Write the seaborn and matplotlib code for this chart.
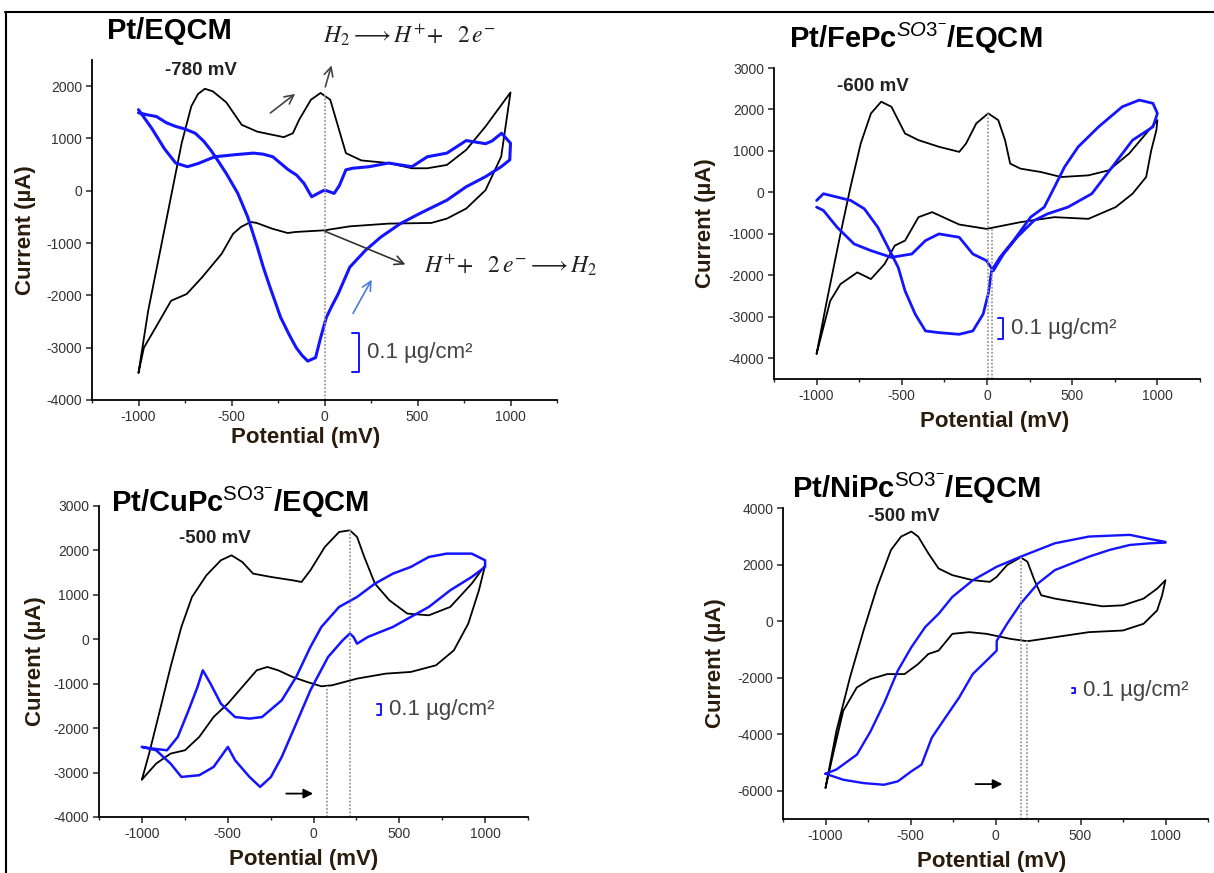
import matplotlib
matplotlib.use("Agg")
import matplotlib.pyplot as plt
from matplotlib.lines import Line2D
from matplotlib.ticker import MultipleLocator
import pandas as pd
import seaborn as sns

W, H, DPI = 1214, 873, 100

# ---------------------------------------------------------------------------
# Data: potential (mV) / current (uA)
# black = cyclic voltammogram, blue = EQCM mass response (same axes)
# ---------------------------------------------------------------------------
# Pt/EQCM
pt_cv_E = [-1000, -948, -883, -820, -768, -716, -680, -643, -600, -528, -445, -361, -219, -170,
           -136, -73, -21, 31, 73, 115, 198, 344, 470, 553, 658, 762, 866, 1000,
           950, 866, 762, 658, 574, 344, 136, 0, -157, -198, -282, -365, -397, -449, -491,
           -553, -658, -741, -825, -908, -971, -1000]
pt_cv_I = [-3480, -2295, -1141, -19, 910, 1615, 1850, 1950, 1900, 1690, 1260, 1130, 1025, 1100,
           1360, 1740, 1870, 1740, 1230, 720, 580, 530, 430, 430, 494, 782, 1230, 1880,
           654, 13, -340, -532, -615, -628, -680, -756, -788, -808, -724, -615, -596, -692, -820,
           -1205, -1654, -1974, -2103, -2615, -3000, -3480]
pt_mass_E = [-1000, -950, -904, -850, -800, -750, -695, -650, -612, -570, -528, -466, -413, -361,
             -330, -299, -236, -190, -152, -120, -90, -48, -21, 10, 40, 73, 136, 220, 303, 407,
             511, 658, 762, 866, 950, 996, 1000, 952, 900, 866, 762, 658, 553, 470, 344, 240,
             150, 115, 80, 52, 0, -40, -69, -110, -150, -194, -278, -330, -382, -480, -590,
             -680, -737, -800, -860, -930, -1000]
pt_mass_I = [1490, 1450, 1420, 1300, 1230, 1180, 1100, 950, 780, 560, 330, -50, -500, -1077,
             -1450, -1780, -2420, -2750, -3000, -3150, -3256, -3190, -2810, -2420, -2200, -1975,
             -1460, -1140, -885, -630, -436, -180, 77, 270, 460, 590, 910, 1100, 950, 900, 960,
             720, 650, 460, 530, 460, 430, 400, 100, -50, 15, -60, -115, 140, 300, 400, 650,
             700, 720, 690, 650, 520, 460, 530, 800, 1200, 1550]

# Pt/FePc(SO3-)/EQCM
fe_cv_E = [-1000, -940, -860, -801, -741, -681, -621, -561, -481, -402, -282, -163, -123, -63, 7,
           66, 106, 136, 196, 316, 435, 595, 715, 834, 1000, 994, 964, 934, 854, 755, 595,
           396, 196, -3, -163, -322, -402, -481, -541, -601, -681, -761, -860, -920, -1000]
fe_cv_I = [-3890, -2615, -1000, 130, 1180, 1905, 2187, 2066, 1420, 1260, 1100, 977, 1178, 1663,
           1905, 1743, 1260, 694, 573, 492, 371, 411, 533, 936, 1743, 1500, 1017, 371, -32,
           -355, -638, -597, -718, -880, -775, -476, -597, -1162, -1283, -1727, -2090, -1929,
           -2211, -2615, -3890]
fe_mass_E = [-1000, -960, -880, -800, -720, -641, -581, -521, -481, -421, -361, -282, -163, -83,
             -23, 7, 27, 76, 156, 256, 336, 396, 455, 535, 655, 794, 894, 974, 1000, 974, 854,
             735, 615, 475, 356, 276, 176, 97, 37, -3, -83, -163, -282, -361, -441, -561, -681,
             -780, -880, -960, -1000]
fe_mass_I = [-194, -32, -113, -194, -395, -839, -1323, -1808, -2373, -2938, -3341, -3382, -3422,
             -3341, -2938, -2454, -1889, -1566, -1162, -597, -355, 129, 613, 1098, 1582, 2066,
             2227, 2147, 1905, 1582, 1259, 613, -32, -355, -516, -678, -1082, -1485, -1889,
             -1646, -1485, -1082, -1001, -1162, -1485, -1566, -1404, -1243, -839, -436, -355]

# Pt/CuPc(SO3-)/EQCM
cu_cv_E = [-1000, -958, -895, -833, -770, -708, -624, -540, -478, -415, -352, -248, -122, -70,
           -18, 66, 149, 212, 254, 296, 358, 442, 547, 672, 797, 922, 1000, 964, 902, 818,
           714, 567, 421, 254, 108, 46, -38, -122, -206, -269, -331, -415, -499, -582, -666,
           -749, -833, -917, -1000]
cu_cv_I = [-3158, -2573, -1598, -623, 278, 953, 1440, 1778, 1890, 1740, 1478, 1403, 1328, 1290,
           1553, 2078, 2415, 2453, 2303, 1853, 1253, 878, 578, 540, 728, 1253, 1665, 1103, 353,
           -248, -585, -735, -773, -885, -1035, -1058, -960, -848, -698, -623, -698, -1073,
           -1448, -1748, -2198, -2498, -2573, -2798, -3158]
cu_mass_E = [-1000, -917, -833, -770, -666, -582, -499, -457, -373, -311, -248, -185, -101, -18,
             23, 85, 170, 212, 233, 254, 317, 463, 567, 672, 797, 922, 1000, 1000, 922, 776,
             672, 567, 463, 358, 254, 149, 46, -18, -101, -185, -300, -373, -457, -540, -600,
             -645, -676, -728, -791, -854, -937, -1000]
cu_mass_I = [-2423, -2498, -2798, -3098, -3060, -2873, -2423, -2723, -3098, -3323, -3098, -2648,
             -1898, -1148, -848, -398, -23, 128, 53, -98, 53, 278, 503, 728, 1103, 1403, 1628,
             1778, 1928, 1928, 1853, 1628, 1478, 1253, 953, 728, 278, -173, -848, -1373, -1750,
             -1785, -1750, -1448, -1000, -698, -1073, -1598, -2198, -2498, -2460, -2423]

# Pt/NiPc(SO3-)/EQCM
ni_cv_E = [-1000, -936, -856, -776, -696, -615, -555, -495, -455, -395, -335, -254, -134, -33, 7,
           68, 148, 188, 229, 269, 349, 469, 630, 750, 871, 951, 1000, 980, 951, 871, 750, 550,
           349, 188, 88, -53, -154, -254, -335, -395, -455, -535, -636, -736, -816, -896,
           -956, -1000]
ni_cv_I = [-5900, -3890, -1993, -332, 1210, 2515, 2990, 3167, 2990, 2396, 1862, 1625, 1447, 1388,
           1566, 1981, 2254, 2100, 1447, 913, 795, 676, 522, 558, 795, 1150, 1447, 913, 380,
           -95, -332, -391, -569, -712, -629, -451, -391, -451, -1044, -1163, -1518, -1874,
           -1874, -2052, -2349, -3179, -4721, -5900]
ni_mass_E = [-1000, -896, -776, -656, -575, -495, -435, -375, -295, -214, -134, -53, 7, 7, 68,
             148, 249, 349, 449, 550, 670, 790, 911, 1000, 1000, 911, 790, 550, 349, 148, 7,
             -133, -254, -334, -414, -495, -575, -655, -735, -815, -936, -1000]
ni_mass_I = [-5400, -5611, -5730, -5789, -5670, -5314, -5077, -4128, -3416, -2704, -1874, -1400,
             -1044, -700, -95, 617, 1329, 1803, 2040, 2278, 2515, 2693, 2752, 2776, 2800, 2900,
             3050, 2990, 2752, 2278, 1922, 1447, 854, 261, -214, -925, -1756, -2900, -3900,
             -4721, -5250, -5400]

# dotted guide lines: potential, top current (bottom = axis floor)
pt_guides = [(0, 1872)]
fe_guides = [(7, 1905), (31, -880)]
cu_guides = [(76, -1058), (212, 2453)]
ni_guides = [(148, 2278), (188, -712)]

# mass scale bars (0.1 ug/cm2): E left, E right, I top, I bottom
pt_bar = (147, 185, -2720, -3465)
fe_bar = (66, 96, -3018, -3543)
cu_bar = (369, 396, -1448, -1710)
ni_bar = (448, 468, -2349, -2527)

# ---------------------------------------------------------------------------
sns.set_theme(style="ticks")
plt.rcParams["font.family"] = ["Liberation Sans", "DejaVu Sans"]
plt.rcParams["axes.unicode_minus"] = False
plt.rcParams["mathtext.fontset"] = "custom"
plt.rcParams["mathtext.rm"] = "Liberation Sans"
plt.rcParams["mathtext.it"] = "Liberation Sans:italic"
plt.rcParams["mathtext.bf"] = "Liberation Sans:bold"

LABEL_COLOR = "#2a1c0c"
BLUE = "#1414ff"

fig = plt.figure(figsize=(W / DPI, H / DPI), dpi=DPI)


def px_axes(l, t, r, b):
    return fig.add_axes([l / W, 1 - b / H, (r - l) / W, (b - t) / H])


def fig_xy(x, y):
    return x / W, 1 - y / H


def curve(ax, E, I, color, lw):
    df = pd.DataFrame({"E": E, "I": I})
    sns.lineplot(data=df, x="E", y="I", sort=False, estimator=None,
                 color=color, linewidth=lw, ax=ax)


def panel(box, ylim, yticks, cv, mass, guides, bar, ylab_x, xlab_xy, blue_lw):
    l, t, r, b = box
    ax = px_axes(l, t, r, b)
    curve(ax, cv[0], cv[1], "black", 1.3)
    curve(ax, mass[0], mass[1], BLUE, blue_lw)
    for gx, gtop in guides:
        ax.vlines(gx, ylim[0], gtop, colors="#9a9a9a", linestyles=(0, (1, 1)), lw=1.3)
    x0, x1, y0, y1 = bar
    ax.plot([x0, x1, x1, x0], [y0, y0, y1, y1], color=BLUE, lw=1.4)
    ax.text(x1 + 45, (y0 + y1) / 2, "0.1 µg/cm²", fontsize=16, color="#444444",
            va="center", ha="left", clip_on=False)

    ax.set_xlim(-1250, 1250)
    ax.set_ylim(*ylim)
    ax.set_xticks([-1000, -500, 0, 500, 1000])
    ax.set_yticks(yticks)
    ax.xaxis.set_minor_locator(MultipleLocator(250))
    sns.despine(ax=ax)
    for s in ("left", "bottom"):
        ax.spines[s].set_linewidth(1.3)
        ax.spines[s].set_color("black")
    ax.tick_params(which="major", direction="out", length=4, width=1.1,
                   labelsize=10, labelcolor="#333333", pad=3)
    ax.tick_params(which="minor", direction="out", length=2.5, width=1)
    ax.grid(False)

    ax.set_xlabel("Potential (mV)", fontsize=16, fontweight="bold",
                  color=LABEL_COLOR, va="center")
    ax.set_ylabel("Current (µA)", fontsize=16, fontweight="bold",
                  color=LABEL_COLOR, va="center")
    ax.yaxis.set_label_coords(-(l - ylab_x) / (r - l), 0.5)
    ax.xaxis.set_label_coords((xlab_xy[0] - l) / (r - l), -(xlab_xy[1] - b) / (b - t))
    return ax


# --- Pt/EQCM -----------------------------------------------------------------
ax1 = panel((92, 60, 557, 400), (-4000, 2500), range(-4000, 2001, 1000),
            (pt_cv_E, pt_cv_I), (pt_mass_E, pt_mass_I), pt_guides, pt_bar,
            25, (306, 438), 2.2)
ax1.text(-662, 2290, "-780 mV", fontsize=13.5, fontweight="bold", color="#222222",
         ha="center", va="center")
ax1.text(-8, 2975, r"$H_2 \longrightarrow H^{+}\!+\ \ 2\,e^{-}$", math_fontfamily="stix",
         fontsize=17, color="#222222", ha="left", va="center", clip_on=False)
ax1.text(534, -1421, r"$H^{+}\!+\ \ 2\,e^{-} \longrightarrow H_2$", math_fontfamily="stix",
         fontsize=17, color="#222222", ha="left", va="center", clip_on=False)
arrow_kw = dict(arrowstyle="->", lw=1.2, mutation_scale=16)
ax1.annotate("", xy=(-146, 1885), xytext=(-303, 1455),
             arrowprops=dict(color="#444444", **arrow_kw), annotation_clip=False)
ax1.annotate("", xy=(42, 2449), xytext=(0, 1936),
             arrowprops=dict(color="#444444", **arrow_kw), annotation_clip=False)
ax1.annotate("", xy=(449, -1429), xytext=(-10, -756),
             arrowprops=dict(color="#333333", **arrow_kw), annotation_clip=False)
ax1.annotate("", xy=(261, -1654), xytext=(146, -2391),
             arrowprops=dict(color="#4b7bd6", **arrow_kw), annotation_clip=False)

# --- Pt/FePc -----------------------------------------------------------------
ax2 = panel((774, 68, 1200, 379), (-4500, 3000), range(-4000, 3001, 1000),
            (fe_cv_E, fe_cv_I), (fe_mass_E, fe_mass_I), fe_guides, fe_bar,
            706, (995, 422), 2.0)
ax2.text(-671, 2550, "-600 mV", fontsize=13.5, fontweight="bold", color="#222222",
         ha="center", va="center")

# --- Pt/CuPc -----------------------------------------------------------------
ax3 = panel((99, 506, 528, 817), (-4000, 3000), range(-4000, 3001, 1000),
            (cu_cv_E, cu_cv_I), (cu_mass_E, cu_mass_I), cu_guides, cu_bar,
            36, (304, 860), 1.8)
ax3.text(-572, 2265, "-500 mV", fontsize=13.5, fontweight="bold", color="#222222",
         ha="center", va="center")
ax3.annotate("", xy=(14, -3473), xytext=(-175, -3473),
             arrowprops=dict(arrowstyle="-|>", color="black", lw=1.3, mutation_scale=14))

# --- Pt/NiPc -----------------------------------------------------------------
ax4 = panel((783, 508, 1208, 819), (-7000, 4000), range(-6000, 4001, 2000),
            (ni_cv_E, ni_cv_I), (ni_mass_E, ni_mass_I), ni_guides, ni_bar,
            716, (992, 862), 1.7)
ax4.text(-540, 3700, "-500 mV", fontsize=13.5, fontweight="bold", color="#222222",
         ha="center", va="center", clip_on=False)
ax4.annotate("", xy=(57, -5765), xytext=(-134, -5765),
             arrowprops=dict(arrowstyle="-|>", color="black", lw=1.3, mutation_scale=14))

# --- panel titles ------------------------------------------------------------
title_kw = dict(fontsize=21, fontweight="bold", color="black", ha="left", va="baseline")
fig.text(*fig_xy(107, 39), "Pt/EQCM", **title_kw)
fig.text(*fig_xy(789, 48), r"Pt/FePc$^{\mathit{SO3^{-}}}$/EQCM", **title_kw)
fig.text(*fig_xy(111, 512), r"Pt/CuPc$^{\mathrm{SO3^{-}}}$/EQCM", **title_kw)
fig.text(*fig_xy(792, 498), r"Pt/NiPc$^{\mathrm{SO3^{-}}}$/EQCM", **title_kw)

# outer frame (top and left edges only are visible in the original)
fig.add_artist(Line2D([5 / W, 1], [1 - 12 / H, 1 - 12 / H], color="black", lw=1.5,
                      transform=fig.transFigure))
fig.add_artist(Line2D([6 / W, 6 / W], [0, 1 - 12 / H], color="black", lw=1.5,
                      transform=fig.transFigure))

fig.savefig("out.png", dpi=DPI)
plt.close(fig)
